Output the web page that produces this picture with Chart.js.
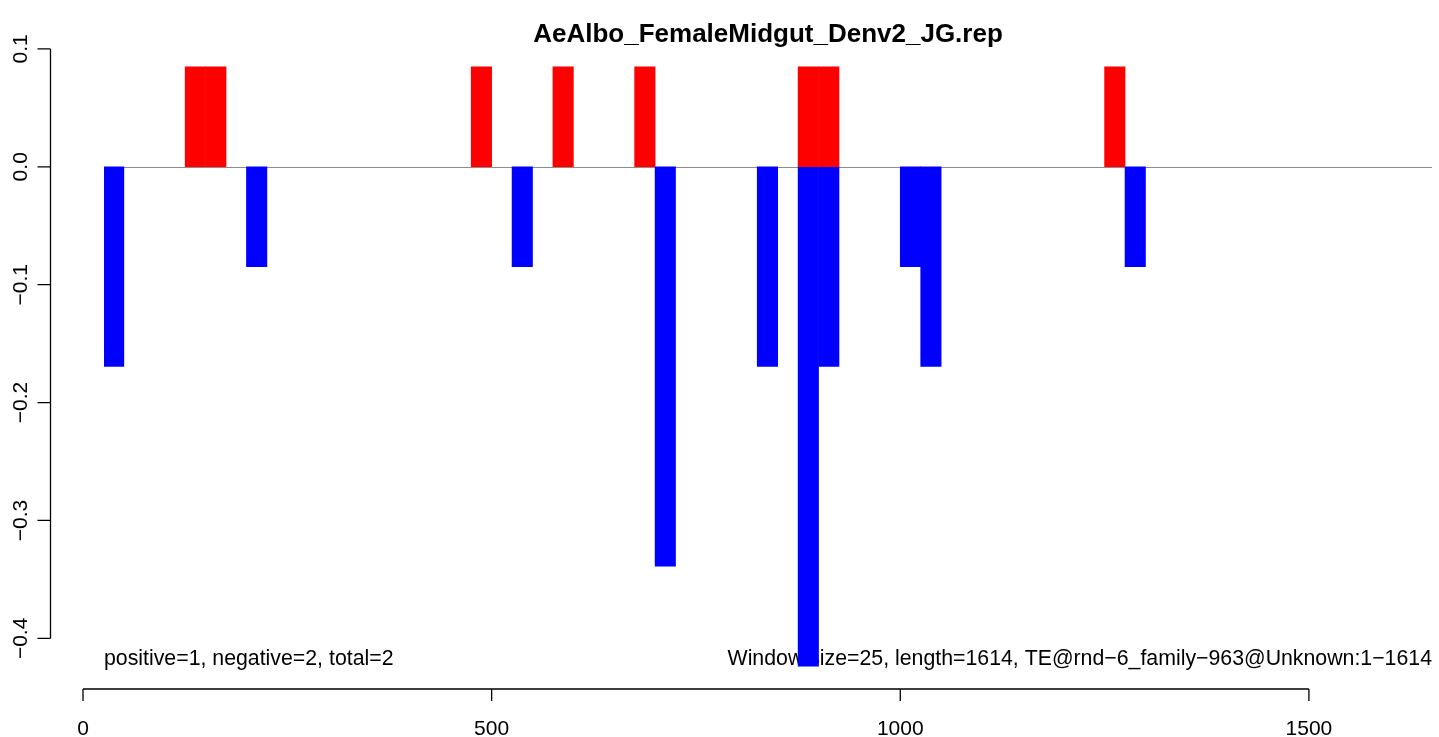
<!DOCTYPE html>
<html>
<head>
<meta charset="utf-8">
<title>AeAlbo_FemaleMidgut_Denv2_JG.rep</title>
<script src="https://cdn.jsdelivr.net/npm/chart.js@4"></script>
<style>
  html, body { margin: 0; padding: 0; background: #ffffff; }
  canvas { display: block; }
</style>
</head>
<body>
<canvas id="chart" width="1439" height="737"></canvas>

<script>
  // window size used for the coverage bins
  const windowSize = 25;

  // start of each window with positive (sense) coverage, and its value
  const posStarts = [125, 150, 475, 575, 675, 875, 900, 1250];
  const posValues = [0.0847, 0.0847, 0.0847, 0.0847, 0.0847, 0.0847, 0.0847, 0.0847];

  // start of each window with negative (antisense) coverage, and its value
  const negStarts = [25, 200, 525, 700, 825, 875, 900, 1000, 1025, 1275];
  const negValues = [-0.1694, -0.0847, -0.0847, -0.3388, -0.1694, -0.4235, -0.1694, -0.0847, -0.1694, -0.0847];

  // axis ticks, drawn R style
  const xTicks = [0, 500, 1000, 1500];
  const yTicks = [0.1, 0.0, -0.1, -0.2, -0.3, -0.4];
  const yTickLabels = ['0.1', '0.0', '-0.1', '-0.2', '-0.3', '-0.4'];

  const titleText = 'AeAlbo_FemaleMidgut_Denv2_JG.rep';
  const leftNote = 'positive=1, negative=2, total=2';
  const rightNote = 'Window size=25, length=1614, TE@rnd\u22126_family\u2212963@Unknown:1\u22121614';

  const FONT = '"Liberation Sans", Arial, Helvetica, sans-serif';

  // bars are centred in their window
  const toPoints = (starts, values) => starts.map((s, i) => ({ x: s + windowSize / 2, y: values[i] }));

  // R-like decorations: zero line, notes, detached axes and title
  const rDecor = {
    id: 'rDecor',
    beforeDatasetsDraw(chart) {
      const { ctx, chartArea, scales } = chart;
      const y0 = scales.y.getPixelForValue(0);
      ctx.save();
      ctx.strokeStyle = '#8c8c8c';
      ctx.lineWidth = 1;
      ctx.beginPath();
      ctx.moveTo(chartArea.left, Math.round(y0) + 0.5);
      ctx.lineTo(chartArea.right, Math.round(y0) + 0.5);
      ctx.stroke();

      // notes at the bottom of the plot region (bars paint over them)
      ctx.fillStyle = '#000000';
      ctx.font = '21.3px ' + FONT;
      ctx.textBaseline = 'alphabetic';
      ctx.textAlign = 'left';
      ctx.fillText(leftNote, chartArea.left, 665);
      ctx.textAlign = 'right';
      ctx.fillText(rightNote, chartArea.right, 665);
      ctx.restore();
    },
    afterDraw(chart) {
      const { ctx, chartArea, scales } = chart;
      const xs = scales.x, ys = scales.y;
      ctx.save();
      ctx.strokeStyle = '#000000';
      ctx.fillStyle = '#000000';
      ctx.lineWidth = 1.3;

      // x axis below the plot
      const axY = 689;
      const x0 = xs.getPixelForValue(xTicks[0]);
      const x1 = xs.getPixelForValue(xTicks[xTicks.length - 1]);
      ctx.beginPath();
      ctx.moveTo(x0, axY);
      ctx.lineTo(x1, axY);
      xTicks.forEach(t => {
        const px = xs.getPixelForValue(t);
        ctx.moveTo(px, axY);
        ctx.lineTo(px, axY + 12);
      });
      ctx.stroke();
      ctx.font = '21px ' + FONT;
      ctx.textAlign = 'center';
      ctx.textBaseline = 'alphabetic';
      xTicks.forEach(t => ctx.fillText(String(t), xs.getPixelForValue(t), 735));

      // y axis to the left
      const axX = 50.5;
      const yTop = ys.getPixelForValue(yTicks[0]);
      const yBot = ys.getPixelForValue(yTicks[yTicks.length - 1]);
      ctx.beginPath();
      ctx.moveTo(axX, yTop);
      ctx.lineTo(axX, yBot);
      yTicks.forEach(t => {
        const py = ys.getPixelForValue(t);
        ctx.moveTo(axX, py);
        ctx.lineTo(axX - 13, py);
      });
      ctx.stroke();
      yTicks.forEach((t, i) => {
        ctx.save();
        ctx.translate(26.5, ys.getPixelForValue(t));
        ctx.rotate(-Math.PI / 2);
        ctx.fillText(yTickLabels[i].replace('-', '\u2212'), 0, 0);
        ctx.restore();
      });

      // title centred over the plot region
      ctx.font = 'bold 26px ' + FONT;
      ctx.fillText(titleText, (chartArea.left + chartArea.right) / 2, 42);
      ctx.restore();
    }
  };

  const ctx = document.getElementById('chart').getContext('2d');
  new Chart(ctx, {
    type: 'bar',
    data: {
      datasets: [{
        label: 'positive',
        data: toPoints(posStarts, posValues),
        backgroundColor: '#ff0000',
        borderWidth: 0,
        grouped: false,
        barPercentage: 1,
        categoryPercentage: 1
      }, {
        label: 'negative',
        data: toPoints(negStarts, negValues),
        backgroundColor: '#0000ff',
        borderWidth: 0,
        grouped: false,
        barPercentage: 1,
        categoryPercentage: 1
      }]
    },
    options: {
      responsive: false,
      animation: false,
      devicePixelRatio: 1,
      layout: { padding: { left: 104, right: 7, top: 43, bottom: 49 } },
      scales: {
        x: { type: 'linear', min: 25.7, max: 1650.6, offset: false, display: false },
        y: { type: 'linear', min: -0.4421, max: 0.105, display: false }
      },
      plugins: {
        legend: { display: false },
        tooltip: { enabled: false },
        title: { display: false }
      }
    },
    plugins: [rDecor]
  });
</script>
</body>
</html>
